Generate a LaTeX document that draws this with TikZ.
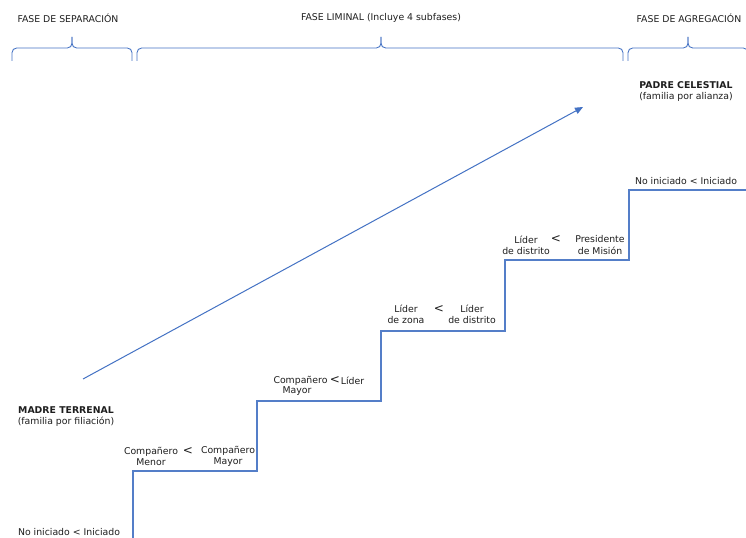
\documentclass[tikz,border=0pt]{standalone}
\usepackage{fontspec}
\setmainfont{DejaVu Sans}
\usetikzlibrary{arrows.meta}
\definecolor{lineblue}{RGB}{68,114,196}
\definecolor{stairblue}{RGB}{84,126,200}
\definecolor{txt}{RGB}{30,30,30}
\begin{document}
\begin{tikzpicture}[x=0.75pt,y=-0.75pt,
  lbl/.style={font=\fontsize{7}{8.3}\selectfont, text=txt, inner sep=0pt, align=center},
  lt/.style={font=\fontsize{9}{9}\selectfont, text=txt, inner sep=0pt},
  stair/.style={draw=stairblue, color=stairblue, line width=0.85pt},
  bracepath/.style={draw=lineblue, line width=0.65pt, rounded corners=3.5pt},
  arr/.style={draw=lineblue, line width=0.75pt, -{Triangle[length=6pt,width=5pt]}}]
\useasboundingbox (0,0) rectangle (746,538);
\fill[white] (0,0) rectangle (746,538);

% phase titles
\node[lbl] (sep) at (68,18) {FASE DE SEPARACIÓN};
\node[lbl] (lim) at (381,18) {FASE LIMINAL (Incluye 4 subfases)};
\node[lbl] (agr) at (689,18) {FASE DE AGREGACIÓN};

% braces
\foreach \a/\m/\b in {12/72/132, 137/381/623, 628/688/748} {
  \draw[bracepath] (\a,61) -- (\a,48) -- (\m,48) -- (\m,37);
  \draw[bracepath] (\b,61) -- (\b,48) -- (\m,48) -- (\m,37);
}

% staircase
\coordinate (s0) at (133,540);
\coordinate (s1) at (257,471);
\coordinate (s2) at (381,401);
\coordinate (s3) at (505,331);
\coordinate (s4) at (629,260);
\coordinate (s5) at (748,190);
\draw[stair] (s0) |- (s1) |- (s2) |- (s3) |- (s4) |- (s5);

% arrow
\coordinate (a0) at (83,379);
\coordinate (a1) at (583,107);
\draw[arr] (a0) -- (a1);

% side labels
\node[lbl] (pc) at (686,91.5) {\textbf{PADRE CELESTIAL}\\(familia por alianza)};
\node[lbl] (mt) at (66,416.5) {\textbf{MADRE TERRENAL}\\(familia por filiación)};
\node[lbl] (ni0) at (69,532) {No iniciado < Iniciado};
\node[lbl] (ni1) at (686,181) {No iniciado < Iniciado};

% step 1
\node[lbl] (c1a) at (151,456) {Compañero\\Menor};
\node[lt]  (lt1) at (188,451) {<};
\node[lbl] (c1b) at (228,456) {Compañero\\Mayor};
% step 2
\node[lbl] (c2a) at (300.5,380.5) {Compañero};
\node[lbl] (c2m) at (297,391.5) {Mayor};
\node[lt]  (lt2) at (335,380) {<};
\node[lbl] (c2b) at (352.5,380.5) {Líder};
% step 3
\node[lbl] (c3a) at (406,314.5) {Líder\\de zona};
\node[lt]  (lt3) at (439,309) {<};
\node[lbl] (c3b) at (472,314.5) {Líder\\de distrito};
% step 4
\node[lbl] (c4a) at (526,245) {Líder\\de distrito};
\node[lt]  (lt4) at (556,239) {<};
\node[lbl] (c4b) at (600,245) {Presidente\\de Misión};
\end{tikzpicture}
\end{document}
